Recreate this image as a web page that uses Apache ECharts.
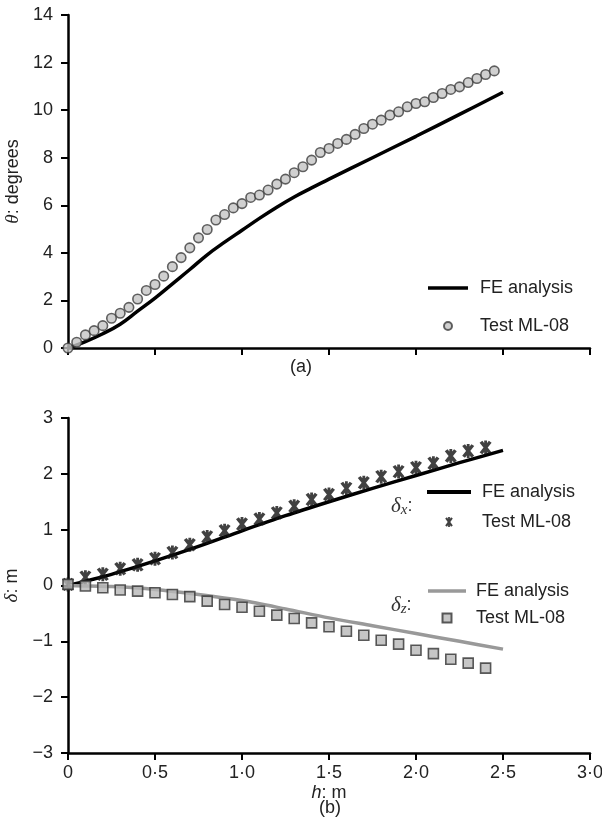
<!DOCTYPE html>
<html>
<head>
<meta charset="utf-8">
<script src="https://cdn.jsdelivr.net/npm/echarts@6/dist/echarts.min.js"></script>
<style>
html,body{margin:0;padding:0;background:#fff;}
#chart{width:602px;height:823px;}
</style>
</head>
<body>
<div id="chart"></div>
<script>
// ---- data ----
const hTicks = [0, 0.5, 1.0, 1.5, 2.0, 2.5, 3.0];

// (a) rotation
const feA_h = [0, 0.1, 0.2, 0.3, 0.4, 0.5, 0.6, 0.7, 0.8, 0.9, 1.0, 1.1, 1.2, 1.3, 1.4, 1.5, 1.75, 2.0, 2.25, 2.5];
const feA_theta = [0, 0.27, 0.6, 1.0, 1.55, 2.1, 2.7, 3.3, 3.92, 4.45, 4.95, 5.45, 5.92, 6.35, 6.73, 7.1, 8.0, 8.9, 9.82, 10.75];
const testA_h = [0, 0.05, 0.1, 0.15, 0.2, 0.25, 0.3, 0.35, 0.4, 0.45, 0.5, 0.55, 0.6, 0.65, 0.7, 0.75, 0.8, 0.85, 0.9, 0.95,
  1.0, 1.05, 1.1, 1.15, 1.2, 1.25, 1.3, 1.35, 1.4, 1.45, 1.5, 1.55, 1.6, 1.65, 1.7, 1.75, 1.8, 1.85, 1.9, 1.95,
  2.0, 2.05, 2.1, 2.15, 2.2, 2.25, 2.3, 2.35, 2.4, 2.45];
const testA_theta = [0, 0.24, 0.55, 0.73, 0.94, 1.25, 1.46, 1.71, 2.06, 2.42, 2.67, 3.02, 3.42, 3.8, 4.21, 4.63, 4.98, 5.38, 5.61, 5.89,
  6.07, 6.33, 6.43, 6.64, 6.89, 7.1, 7.37, 7.62, 7.9, 8.22, 8.39, 8.6, 8.77, 8.98, 9.23, 9.41, 9.58, 9.79, 9.93, 10.14,
  10.28, 10.35, 10.53, 10.7, 10.87, 10.98, 11.16, 11.33, 11.5, 11.65];

// (b) displacements
const feB_h = [0, 0.25, 0.5, 0.75, 1.0, 1.25, 1.5, 1.75, 2.0, 2.25, 2.5];
const feX_delta = [0, 0.2, 0.44, 0.7, 0.98, 1.25, 1.5, 1.74, 1.97, 2.2, 2.42];
const feZ_delta = [0, -0.02, -0.07, -0.16, -0.27, -0.42, -0.58, -0.72, -0.86, -1.0, -1.14];
const testB_h = [0, 0.1, 0.2, 0.3, 0.4, 0.5, 0.6, 0.7, 0.8, 0.9, 1.0, 1.1, 1.2, 1.3, 1.4, 1.5, 1.6, 1.7, 1.8, 1.9, 2.0, 2.1, 2.2, 2.3, 2.4];
const testX_delta = [0.02, 0.15, 0.2, 0.3, 0.37, 0.48, 0.59, 0.73, 0.87, 0.98, 1.1, 1.19, 1.3, 1.42, 1.54, 1.63, 1.74, 1.84, 1.95, 2.04, 2.11, 2.19, 2.32, 2.41, 2.47];
const testZ_delta = [0.02, -0.01, -0.04, -0.08, -0.1, -0.13, -0.16, -0.2, -0.28, -0.34, -0.39, -0.46, -0.53, -0.59, -0.67, -0.74, -0.82, -0.89, -0.98, -1.05, -1.16, -1.22, -1.32, -1.39, -1.48];

const legendLabels = { fe: 'FE analysis', test: 'Test ML-08' };

// ---- helpers ----
const zip = (a, b) => a.map((v, i) => [v, b[i]]);
const FONT = 'Liberation Sans';
const TXT = '#222';
const STAR = 'path://M8.2 0H11.8V20H8.2Z M5.9 0.4L17.6 16.9L14.1 19.6L2.4 3.1Z M17.6 3.1L5.9 19.6L2.4 16.9L14.1 0.4Z';
const SQUARE = 'path://M0 0H10V10H0Z';
const LINE_ICON = 'path://M0 0H40V3.5H0Z';

const axisLine = { show: true, onZero: false, lineStyle: { color: '#000', width: 2.5 } };
const axisTick = { show: true, length: 7, lineStyle: { color: '#000', width: 2 } };
const fmtH = v => v === 0 ? '0' : v.toFixed(1).replace('.', '\u00b7');
const fmtY = v => v < 0 ? '\u2212' + Math.abs(v) : String(v);

const option = {
  animation: false,
  backgroundColor: '#fff',
  textStyle: { fontFamily: FONT },
  grid: [
    { left: 68, top: 15, width: 522, height: 333, outerBoundsMode: 'none' },
    { left: 68, top: 418, width: 522, height: 335, outerBoundsMode: 'none' }
  ],
  xAxis: [
    { type: 'value', gridIndex: 0, min: 0, max: 3, interval: 0.5,
      axisLine, axisTick, splitLine: { show: false }, axisLabel: { show: false } },
    { type: 'value', gridIndex: 1, min: 0, max: 3, interval: 0.5,
      axisLine, axisTick, splitLine: { show: false },
      axisLabel: { show: true, margin: 11, fontSize: 18, color: TXT, fontFamily: FONT, formatter: fmtH },
      name: '{i|h}: m', nameLocation: 'middle', nameGap: 31,
      nameTextStyle: { fontSize: 18, color: TXT, fontFamily: FONT, rich: { i: { fontSize: 18, fontStyle: 'italic', fontFamily: FONT, color: TXT } } } }
  ],
  yAxis: [
    { type: 'value', gridIndex: 0, min: 0, max: 14, interval: 2,
      axisLine, axisTick, splitLine: { show: false },
      axisLabel: { margin: 15, fontSize: 18, color: TXT, fontFamily: FONT },
      name: '{i|θ}: degrees', nameLocation: 'middle', nameGap: 38, nameRotate: 90,
      nameTextStyle: { fontSize: 18, color: TXT, fontFamily: FONT, rich: { i: { fontSize: 19, fontStyle: 'italic', fontFamily: 'Liberation Serif', color: TXT } } } },
    { type: 'value', gridIndex: 1, min: -3, max: 3, interval: 1,
      axisLine, axisTick, splitLine: { show: false },
      axisLabel: { margin: 15, fontSize: 18, color: TXT, fontFamily: FONT, formatter: fmtY },
      name: '{i|δ}: m', nameLocation: 'middle', nameGap: 38, nameRotate: 90,
      nameTextStyle: { fontSize: 18, color: TXT, fontFamily: FONT, rich: { i: { fontSize: 19, fontStyle: 'italic', fontFamily: 'Liberation Serif', color: TXT } } } }
  ],
  legend: [
    { orient: 'vertical', left: 428, top: 279, padding: 0, itemGap: 20, itemWidth: 40, itemHeight: 8,
      textStyle: { fontSize: 18, color: TXT, fontFamily: FONT, lineHeight: 18, padding: [0, 0, 0, 7] },
      formatter: n => legendLabels[n.split('|')[0]],
      data: [{ name: 'fe|a', icon: LINE_ICON }, { name: 'test|a' }] },
    { orient: 'vertical', left: 427, top: 483, padding: 0, itemGap: 12, itemWidth: 44, itemHeight: 10,
      textStyle: { fontSize: 18, color: TXT, fontFamily: FONT, lineHeight: 18, padding: [0, 0, 0, 6] },
      formatter: n => legendLabels[n.split('|')[0]],
      data: [{ name: 'fe|x', icon: LINE_ICON }, { name: 'test|x' }] },
    { orient: 'vertical', left: 428, top: 582, padding: 0, itemGap: 9, itemWidth: 38, itemHeight: 9,
      textStyle: { fontSize: 18, color: TXT, fontFamily: FONT, lineHeight: 18, padding: [0, 0, 0, 5] },
      formatter: n => legendLabels[n.split('|')[0]],
      data: [{ name: 'fe|z', icon: LINE_ICON }, { name: 'test|z' }] }
  ],
  graphic: [
    { type: 'text', left: 'center', x: 0, top: 358, style: { text: '(a)', font: '18px "Liberation Sans"', fill: TXT } },
    { type: 'text', x: 319, y: 799, style: { text: '(b)', font: '18px "Liberation Sans"', fill: TXT } },
    { type: 'text', x: 391, y: 494, style: { text: '{d|δ}{s|x}{c|:}', rich: {
        d: { fontSize: 21, fontStyle: 'italic', fontFamily: 'Liberation Serif', fill: '#333', lineHeight: 24 },
        s: { fontSize: 15, fontStyle: 'italic', fontFamily: 'Liberation Serif', fill: '#333', lineHeight: 15, verticalAlign: 'bottom' },
        c: { fontSize: 18, fontFamily: FONT, fill: '#333', lineHeight: 24 } } } },
    { type: 'text', x: 391, y: 593, style: { text: '{d|δ}{s|z}{c|:}', rich: {
        d: { fontSize: 21, fontStyle: 'italic', fontFamily: 'Liberation Serif', fill: '#333', lineHeight: 24 },
        s: { fontSize: 15, fontStyle: 'italic', fontFamily: 'Liberation Serif', fill: '#333', lineHeight: 15, verticalAlign: 'bottom' },
        c: { fontSize: 18, fontFamily: FONT, fill: '#333', lineHeight: 24 } } } }
  ],
  series: [
    { name: 'fe|a', type: 'line', xAxisIndex: 0, yAxisIndex: 0, data: zip(feA_h, feA_theta),
      symbol: 'none', smooth: 0.4, color: '#000', lineStyle: { color: '#000', width: 3.5 }, z: 2 },
    { name: 'test|a', type: 'scatter', xAxisIndex: 0, yAxisIndex: 0, data: zip(testA_h, testA_theta),
      symbol: 'circle', symbolSize: 9.5, itemStyle: { color: '#c4c4c4', borderColor: '#3c3c3c', borderWidth: 1.6 }, z: 3 },
    { name: 'fe|x', type: 'line', xAxisIndex: 1, yAxisIndex: 1, data: zip(feB_h, feX_delta),
      symbol: 'none', smooth: 0.3, color: '#000', lineStyle: { color: '#000', width: 3.5 }, z: 2 },
    { name: 'fe|z', type: 'line', xAxisIndex: 1, yAxisIndex: 1, data: zip(feB_h, feZ_delta),
      symbol: 'none', smooth: 0.3, color: '#999', lineStyle: { color: '#999', width: 3.5 }, z: 2 },
    { name: 'test|x', type: 'scatter', xAxisIndex: 1, yAxisIndex: 1, data: zip(testB_h, testX_delta),
      symbol: STAR, symbolSize: [12, 14], itemStyle: { color: '#111' }, z: 3 },
    { name: 'test|z', type: 'scatter', xAxisIndex: 1, yAxisIndex: 1, data: zip(testB_h, testZ_delta),
      symbol: SQUARE, symbolSize: 10, itemStyle: { color: '#b8b8b8', borderColor: '#333', borderWidth: 1.6 }, z: 3 }
  ]
};

const chart = echarts.init(document.getElementById('chart'), null, { renderer: 'canvas' });
chart.setOption(option);
</script>
</body>
</html>
